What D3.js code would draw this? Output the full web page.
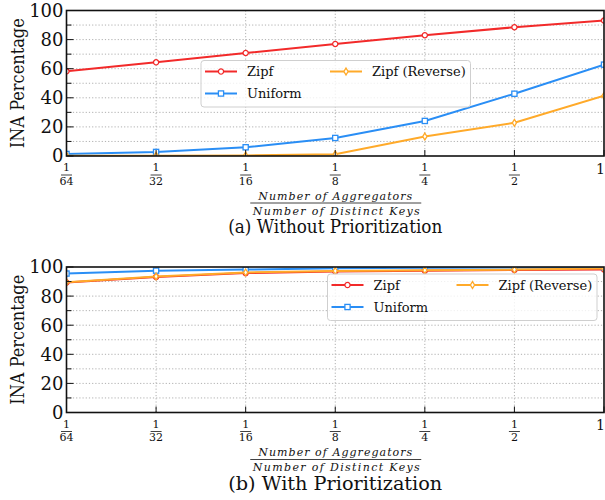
<!DOCTYPE html>
<meta charset="utf-8">
<style>
body { margin: 0; background: #fff; }
svg text { font-family: "DejaVu Serif", "Liberation Serif", "Times New Roman", serif; fill: #111; }
.grid line { stroke: #b0b0b0; stroke-width: 1; stroke-dasharray: 1.2,2; }
.frame { fill: none; stroke: #111; stroke-width: 1.6; }
.tick { stroke: #111; stroke-width: 1; }
.series { fill: none; stroke-width: 2; }
.legend-box { fill: #fff; fill-opacity: 0.8; stroke: #cfcfcf; stroke-width: 1; }
</style>
<body>
<script src="https://d3js.org/d3.v7.min.js"></script>
<script>

// x values: aggregators / distinct keys
var xVals = [1/64, 1/32, 1/16, 1/8, 1/4, 1/2, 1]
var xDen = ["64", "32", "16", "8", "4", "2", null]
var yTicks = [0, 20, 40, 60, 80, 100]
var yMinor = [10, 30, 50, 70, 90]

// (a) without prioritization
var zipfA = [58.2, 64.4, 70.8, 77.0, 83.0, 88.5, 93.1]
var uniformA = [1.4, 2.8, 6.0, 12.4, 24.1, 42.8, 62.8]
var reverseA = [0.2, 0.2, 0.4, 1.2, 13.4, 22.8, 41.4]

// (b) with prioritization
var zipfB = [89.3, 93.2, 95.8, 96.9, 97.5, 98.0, 98.3]
var uniformB = [95.5, 97.5, 98.2, 99.2, 99.5, 99.7, 99.8]
var reverseB = [89.6, 93.5, 96.3, 97.3, 97.8, 98.2, 98.9]

var seriesNames = ["Zipf", "Uniform", "Zipf (Reverse)"]
var colors = ["#f22a2a", "#2a8ef5", "#ffaa2a"]
var markers = ["circle", "square", "diamond"]

var width = 605, height = 500
var svg = d3.select("body").append("svg")
    .attr("width", width)
    .attr("height", height)

function drawMarker(sel, type, color) {
  if (type == "circle") {
    sel.append("circle").attr("r", 2.6)
  } else if (type == "square") {
    sel.append("rect").attr("x", -2.6).attr("y", -2.6).attr("width", 5.2).attr("height", 5.2)
  } else {
    sel.append("path").attr("d", "M0,-3.4L2.1,0L0,3.4L-2.1,0Z")
  }
  sel.selectAll("*")
    .attr("fill", "#fff")
    .attr("stroke", color)
    .attr("stroke-width", 1.3)
}

function panel(id, top, data, legendX, legendY, caption) {
  var left = 66.5, right = 604, plotH = 145.5
  var x = d3.scaleLog().base(2).domain([1/64, 1]).range([left, right])
  var y = d3.scaleLinear().domain([0, 100]).range([top + plotH, top])

  var g = svg.append("g")

  g.append("clipPath").attr("id", "clip" + id)
    .append("rect")
    .attr("x", left).attr("y", top)
    .attr("width", right - left).attr("height", plotH)

  // grid
  var grid = g.append("g").attr("class", "grid")
  grid.selectAll(".h").data(yTicks.concat(yMinor).filter(d => d > 0 && d < 100))
    .enter().append("line")
    .attr("x1", left).attr("x2", right)
    .attr("y1", d => y(d)).attr("y2", d => y(d))
  grid.selectAll(".v").data(xVals.slice(1, -1))
    .enter().append("line")
    .attr("x1", d => x(d)).attr("x2", d => x(d))
    .attr("y1", top).attr("y2", top + plotH)

  // series
  var lineGen = d3.line().x((d, i) => x(xVals[i])).y(d => y(d))
  var plot = g.append("g").attr("clip-path", "url(#clip" + id + ")")
  data.forEach(function(vals, k) {
    plot.append("path")
      .attr("class", "series")
      .attr("stroke", colors[k])
      .attr("d", lineGen(vals))
    vals.forEach(function(v, i) {
      var m = plot.append("g").attr("transform", "translate(" + x(xVals[i]) + "," + y(v) + ")")
      drawMarker(m, markers[k], colors[k])
    })
  })

  // ticks (inward, left and bottom)
  g.selectAll(".ym").data(yTicks).enter().append("line")
    .attr("class", "tick")
    .attr("x1", left).attr("x2", left + 7)
    .attr("y1", d => y(d)).attr("y2", d => y(d))
  g.selectAll(".yn").data(yMinor).enter().append("line")
    .attr("class", "tick")
    .attr("x1", left).attr("x2", left + 5)
    .attr("y1", d => y(d)).attr("y2", d => y(d))
  g.selectAll(".xt").data(xVals).enter().append("line")
    .attr("class", "tick")
    .attr("x1", d => x(d)).attr("x2", d => x(d))
    .attr("y1", top + plotH).attr("y2", top + plotH - 6)

  g.append("rect").attr("class", "frame")
    .attr("x", left).attr("y", top)
    .attr("width", right - left).attr("height", plotH)

  // y tick labels
  g.selectAll(".yl").data(yTicks).enter().append("text")
    .attr("x", left - 3)
    .attr("y", d => y(d))
    .attr("dy", "0.36em")
    .attr("text-anchor", "end")
    .style("font-size", "18px")
    .text(d => d)

  g.append("text")
    .attr("transform", "translate(24," + (top + plotH / 2) + ") rotate(-90)")
    .attr("text-anchor", "middle")
    .style("font-size", "18px")
    .attr("textLength", 130).attr("lengthAdjust", "spacingAndGlyphs")
    .text("INA Percentage")

  // x tick labels as fractions
  var base = top + plotH
  xVals.forEach(function(v, i) {
    var cx = x(v)
    if (xDen[i] == null) {
      g.append("text").attr("x", 605).attr("y", base + 17.5)
        .attr("text-anchor", "end").style("font-size", "14px").text("1")
      return
    }
    g.append("text").attr("x", cx).attr("y", base + 15)
      .attr("text-anchor", "middle").style("font-size", "11px").text("1")
    g.append("line").attr("x1", cx - 5.5).attr("x2", cx + 5.5)
      .attr("y1", base + 19).attr("y2", base + 19)
      .attr("stroke", "#111").attr("stroke-width", 0.8)
    g.append("text").attr("x", cx).attr("y", base + 28.5)
      .attr("text-anchor", "middle").style("font-size", "11px").text(xDen[i])
  })

  // x axis label
  var mid = (left + right) / 2
  g.append("text").attr("x", mid).attr("y", base + 43.5)
    .attr("text-anchor", "middle").style("font-size", "11px").style("font-style", "italic")
    .attr("textLength", 154).attr("lengthAdjust", "spacing")
    .text("Number of Aggregators")
  g.append("line").attr("x1", mid - 85).attr("x2", mid + 86)
    .attr("y1", base + 47).attr("y2", base + 47)
    .attr("stroke", "#111").attr("stroke-width", 0.8)
  g.append("text").attr("x", mid + 1).attr("y", base + 58.5)
    .attr("text-anchor", "middle").style("font-size", "11px").style("font-style", "italic")
    .attr("textLength", 167).attr("lengthAdjust", "spacing")
    .text("Number of Distinct Keys")

  g.append("text").attr("x", mid).attr("y", base + 77)
    .attr("text-anchor", "middle").style("font-size", "18.5px")
    .attr("textLength", 214).attr("lengthAdjust", "spacingAndGlyphs")
    .text(caption)

  // legend
  var lg = g.append("g").attr("transform", "translate(" + legendX + "," + legendY + ")")
  lg.append("rect").attr("class", "legend-box")
    .attr("width", 269.5).attr("height", 46.5).attr("rx", 3)
  var slots = [[4, 11], [4, 33], [129, 11]]
  seriesNames.forEach(function(name, k) {
    var s = lg.append("g").attr("transform", "translate(" + slots[k][0] + "," + slots[k][1] + ")")
    s.append("line").attr("x1", 0).attr("x2", 32)
      .attr("stroke", colors[k]).attr("stroke-width", 2)
    drawMarker(s.append("g").attr("transform", "translate(16,0)"), markers[k], colors[k])
    s.append("text").attr("x", 42).attr("dy", "0.35em")
      .style("font-size", "13px").text(name)
  })
}

panel("a", 10.5, [zipfA, uniformA, reverseA], 201, 60.5, "(a) Without Prioritization")
panel("b", 267, [zipfB, uniformB, reverseB], 327.5, 274, "(b) With Prioritization")

</script>
